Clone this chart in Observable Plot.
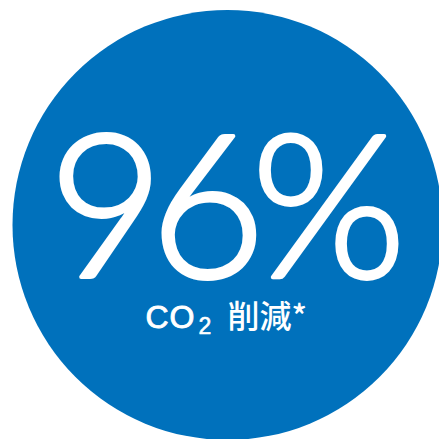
<!DOCTYPE html>
<html>
<head>
<meta charset="utf-8">
<script src="https://cdn.jsdelivr.net/npm/d3@7"></script>
<script src="https://cdn.jsdelivr.net/npm/@observablehq/plot@0.6"></script>
<style>
html,body{margin:0;padding:0;background:#fff;overflow:hidden;}
.big text{letter-spacing:-14px;}
.co text{letter-spacing:1px;}
</style>
</head>
<body>
<div id="chart"></div>
<script>
const valueLabel = ["96%"];
const subParts = ["CO", "2", "削減*"];
const circleFill = "#0071bc";

const W = 439, H = 439;
const chart = Plot.plot({
  width: W, height: H, margin: 0,
  x: {domain: [0, W], axis: null},
  y: {domain: [H, 0], axis: null},
  marks: [
    Plot.dot([{x: 227, y: 224.5}], {x: "x", y: "y", r: 215, fill: circleFill, stroke: "none"}),
    Plot.text(valueLabel, {x: () => 220, y: () => 213, text: d => d, fill: "white", stroke: "white", strokeWidth: 4, className: "big",
      fontSize: 199, fontFamily: "Lato", fontWeight: 300, textAnchor: "middle", lineAnchor: "middle"}),
    Plot.text([subParts[0]], {x: () => 145, y: () => 327, text: d => d, fill: "white", stroke: "white", strokeWidth: 0.9, className: "co",
      fontSize: 32, fontFamily: "Liberation Sans", fontWeight: 400, textAnchor: "start", lineAnchor: "bottom"}),
    Plot.text([subParts[1]], {x: () => 198, y: () => 333, text: d => d, fill: "white", stroke: "white", strokeWidth: 0.6,
      fontSize: 23, fontFamily: "Liberation Sans", fontWeight: 400, textAnchor: "start", lineAnchor: "bottom"}),
    Plot.text([subParts[2]], {x: () => 227, y: () => 317, text: d => d, fill: "white",
      fontSize: 32, fontFamily: "Noto Sans CJK JP", fontWeight: 500, textAnchor: "start", lineAnchor: "middle"})
  ]
});
document.getElementById("chart").appendChild(chart);
</script>
</body>
</html>
